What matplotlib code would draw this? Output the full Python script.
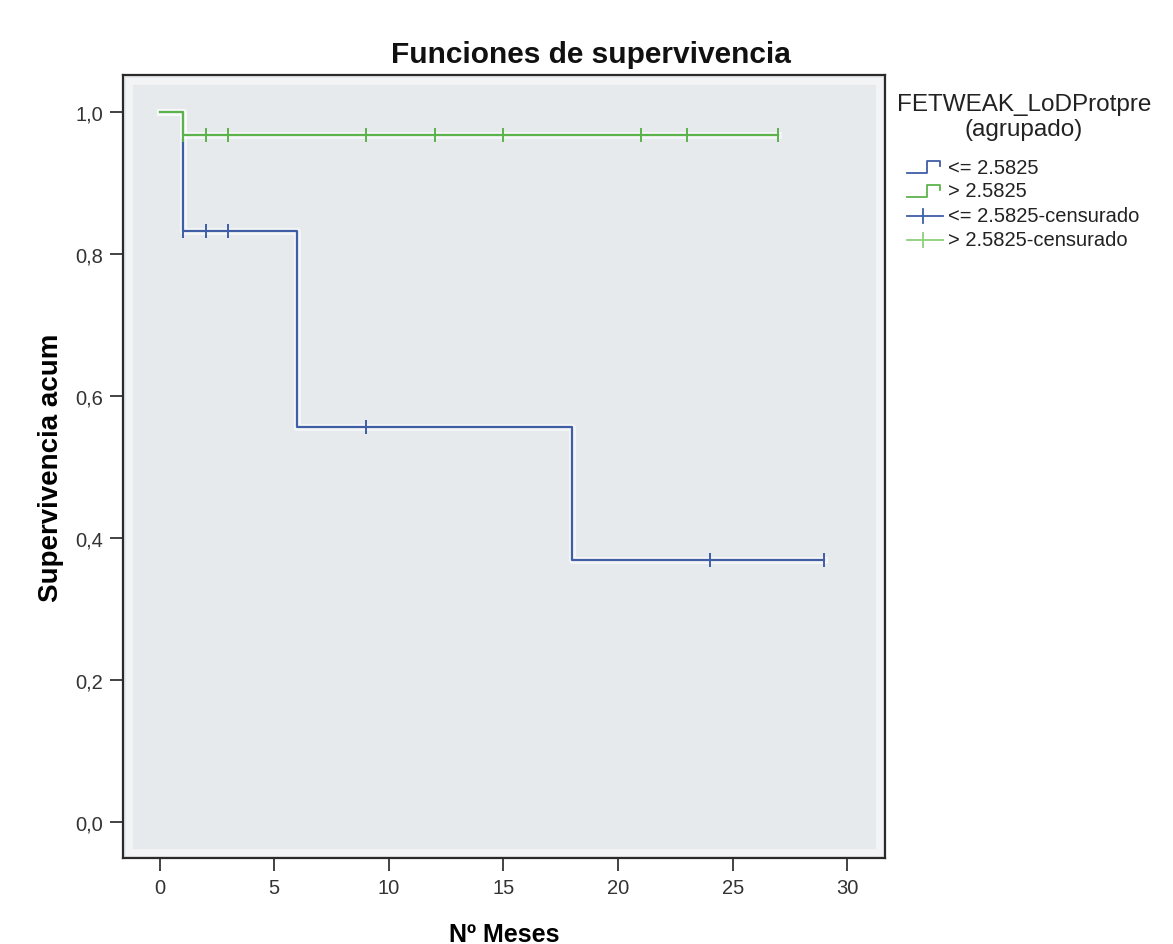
import matplotlib
matplotlib.use("Agg")
import matplotlib.pyplot as plt
import matplotlib.patheffects as pe
from matplotlib.lines import Line2D
from matplotlib.patches import Rectangle
from matplotlib.ticker import FuncFormatter
from matplotlib import font_manager
import numpy as np

# Kaplan-Meier steps per group (months, cumulative survival)
low_times = [0, 1, 6, 18, 29]
low_surv = [1.0, 0.833, 0.556, 0.370, 0.370]
low_censored = [1, 2, 3, 9, 24, 29]

high_times = [0, 1, 27]
high_surv = [1.0, 0.967, 0.967]
high_censored = [1, 2, 3, 9, 12, 15, 21, 23, 27]

legend_title = ["FETWEAK_LoDProtpre", "(agrupado)"]
group_labels = ["<= 2.5825", "> 2.5825",
                "<= 2.5825-censurado", "> 2.5825-censurado"]
x_ticks = [0, 5, 10, 15, 20, 25, 30]
y_ticks = [0.0, 0.2, 0.4, 0.6, 0.8, 1.0]

BLUE = "#3f5ea6"
GREEN = "#5cb34c"
LIGHT_GREEN = "#8fd07a"
W, H = 1173, 945


def pick_font(names):
    installed = {f.name for f in font_manager.fontManager.ttflist}
    for n in names:
        if n in installed:
            return n
    return "DejaVu Sans"


SANS = pick_font(["Liberation Sans", "Arial", "DejaVu Sans"])
plt.rcParams["font.family"] = [SANS, "DejaVu Sans"]


def surv_at(times, surv, t):
    idx = np.searchsorted(times, t, side="right") - 1
    return np.asarray(surv)[idx]


def px(x, y):
    # pixel position (from top-left) to figure fraction
    return x / W, 1 - y / H


fig = plt.figure(figsize=(W / 100, H / 100), dpi=100)
ax = fig.add_axes([0.1049, 0.0910, 0.6496, 0.8286])
ax.set_facecolor("#e7eaed")

# lighter rim just inside the frame
ax.add_patch(Rectangle((0.008, 0.008), 0.984, 0.984, transform=ax.transAxes,
                       fill=False, edgecolor="#f3f4f5", lw=5, zorder=1))

halo = [pe.Stroke(linewidth=5, foreground="white", alpha=0.55), pe.Normal()]

ax.step(low_times, low_surv, where="post", color=BLUE, lw=1.6,
        path_effects=halo, zorder=3)
ax.step(high_times, high_surv, where="post", color=GREEN, lw=1.6,
        path_effects=halo, zorder=4)

ax.plot(low_censored, surv_at(low_times, low_surv, low_censored),
        ls="none", marker="|", ms=10, mew=1.4, color=BLUE, zorder=5)
ax.plot(high_censored, surv_at(high_times, high_surv, high_censored),
        ls="none", marker="|", ms=10, mew=1.4, color=GREEN, zorder=5)

ax.set_xlim(-1.6, 31.65)
ax.set_ylim(-0.05, 1.052)
ax.set_xticks(x_ticks)
ax.set_yticks(y_ticks)
ax.yaxis.set_major_formatter(FuncFormatter(lambda v, p: f"{v:.1f}".replace(".", ",")))
ax.tick_params(direction="out", length=9.5, width=1.2, colors="#222222",
               labelsize=14.5, labelcolor="#333333", pad=5)
for s in ax.spines.values():
    s.set_linewidth(1.6)
    s.set_color("#2a2a2a")

fig.text(*px(591, 55), "Funciones de supervivencia", ha="center", va="center",
         fontsize=21.5, fontweight="bold", color="#111111")
ax.set_xlabel("Nº Meses", fontsize=18, fontweight="bold", labelpad=18)
ax.set_ylabel("Supervivencia acum", fontsize=20, fontweight="bold", labelpad=8)

# legend drawn by hand so the rows sit as in the SPSS layout
fig.text(*px(1024, 105), legend_title[0], ha="center", va="center",
         fontsize=17.5, color="#222222")
fig.text(*px(1024, 130), legend_title[1], ha="center", va="center",
         fontsize=17.5, color="#222222")

row_y = [168, 192, 217, 241]
x0, x1 = 907, 943


def step_glyph(y, color):
    xs = np.array([x0, 927, 927, 940, 940])
    ys = np.array([y + 6, y + 6, y - 6, y - 6, y - 1])
    fx, fy = px(xs, ys)
    fig.add_artist(Line2D(fx, fy, color=color, lw=1.3))


def cens_glyph(y, color):
    fx, fy = px(np.array([x0, x1]), np.array([y, y]))
    fig.add_artist(Line2D(fx, fy, color=color, lw=1.3))
    mx, my = px(np.array([923, 923]), np.array([y - 7, y + 7]))
    fig.add_artist(Line2D(mx, my, color=color, lw=1.3))


step_glyph(row_y[0], BLUE)
step_glyph(row_y[1], GREEN)
cens_glyph(row_y[2], BLUE)
cens_glyph(row_y[3], LIGHT_GREEN)

for y, lab in zip(row_y, group_labels):
    fig.text(*px(948, y), lab, ha="left", va="center", fontsize=14.5,
             color="#222222")

fig.savefig("out.png", dpi=100, facecolor="white")
